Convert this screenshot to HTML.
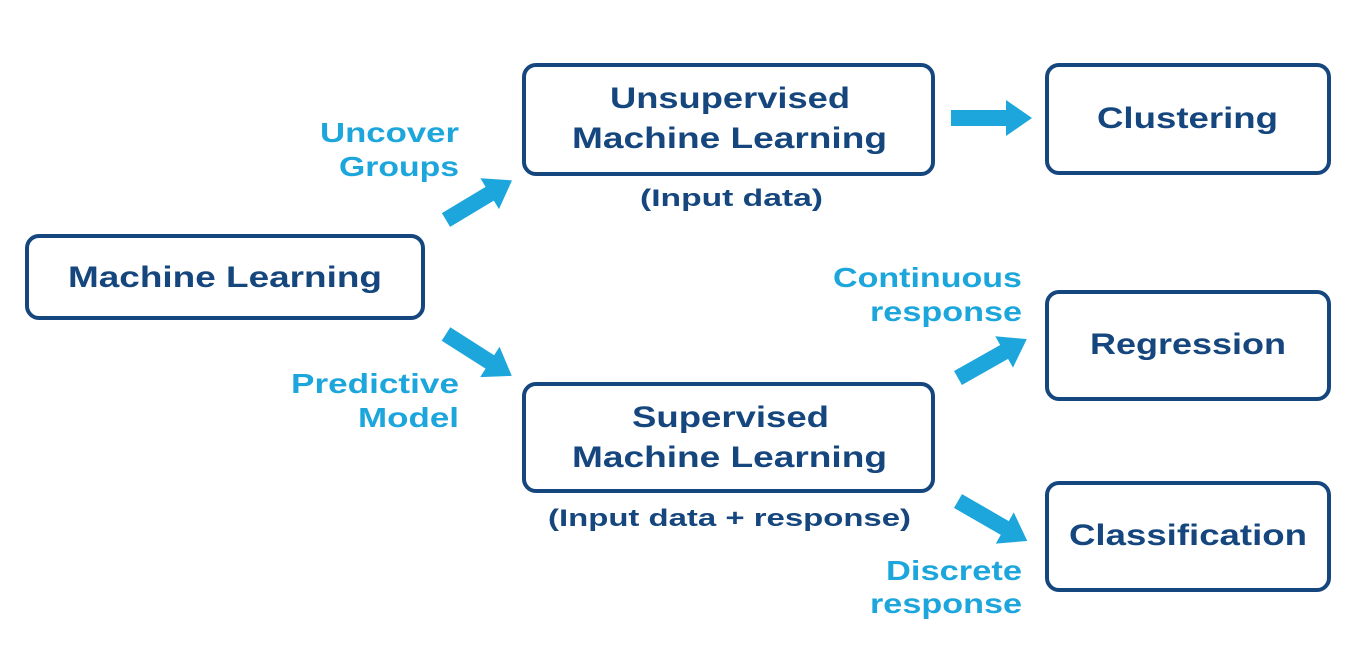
<!DOCTYPE html>
<html><head><meta charset="utf-8"><style>
html,body{margin:0;padding:0;background:#fff;}
svg{display:block;}
text{font-family:"Liberation Sans",Arial,sans-serif;font-weight:bold;}
.n{fill:#15467e;}
.c{fill:#1ca6dc;}
</style></head><body>
<svg width="1350" height="657" viewBox="0 0 1350 657" xmlns="http://www.w3.org/2000/svg">
<rect width="1350" height="657" fill="#fff"/>
<defs>
<symbol id="a" overflow="visible"><polygon points="0,-8 0,8"/></symbol>
</defs>
<g fill="none" stroke="#15467e" stroke-width="4">
<rect x="27" y="236" width="396" height="82" rx="12"/>
<rect x="524" y="65" width="409" height="109" rx="12"/>
<rect x="524" y="384" width="409" height="107" rx="12"/>
<rect x="1047" y="65" width="282" height="108" rx="12"/>
<rect x="1047" y="292" width="282" height="107" rx="12"/>
<rect x="1047" y="483" width="282" height="107" rx="12"/>
</g>
<g fill="#1ca6dc">
<g transform="translate(446,220) rotate(-31)"><polygon points="0,-8 51,-8 51,-18 77,0 51,18 51,8 0,8"/></g>
<g transform="translate(446,334) rotate(32.5)"><polygon points="0,-8 52,-8 52,-18 78,0 52,18 52,8 0,8"/></g>
<g transform="translate(951,118)"><polygon points="0,-8 55,-8 55,-18 81,0 55,18 55,8 0,8"/></g>
<g transform="translate(958,378) rotate(-29.5)"><polygon points="0,-8 53,-8 53,-18 79,0 53,18 53,8 0,8"/></g>
<g transform="translate(958,501) rotate(30)"><polygon points="0,-8 54,-8 54,-18 80,0 54,18 54,8 0,8"/></g>
</g>
<g class="n" font-size="30">
<text x="68" y="287" textLength="314" lengthAdjust="spacingAndGlyphs">Machine Learning</text>
<text x="610" y="108" textLength="240" lengthAdjust="spacingAndGlyphs">Unsupervised</text>
<text x="572" y="148" textLength="315" lengthAdjust="spacingAndGlyphs">Machine Learning</text>
<text x="632" y="427" textLength="197" lengthAdjust="spacingAndGlyphs">Supervised</text>
<text x="572" y="467" textLength="315" lengthAdjust="spacingAndGlyphs">Machine Learning</text>
<text x="1097" y="128" textLength="181" lengthAdjust="spacingAndGlyphs">Clustering</text>
<text x="1090" y="354" textLength="196" lengthAdjust="spacingAndGlyphs">Regression</text>
<text x="1069" y="545" textLength="238" lengthAdjust="spacingAndGlyphs">Classification</text>
</g>
<g class="n" font-size="24">
<text x="640" y="206" textLength="183" lengthAdjust="spacingAndGlyphs">(Input data)</text>
<text x="548" y="526" textLength="363" lengthAdjust="spacingAndGlyphs">(Input data + response)</text>
</g>
<g class="c" font-size="28" font-weight="normal">
<text x="320" y="142" textLength="139" lengthAdjust="spacingAndGlyphs">Uncover</text>
<text x="339" y="176" textLength="120" lengthAdjust="spacingAndGlyphs">Groups</text>
<text x="291" y="393" textLength="168" lengthAdjust="spacingAndGlyphs">Predictive</text>
<text x="358" y="427" textLength="101" lengthAdjust="spacingAndGlyphs">Model</text>
<text x="833" y="287" textLength="189" lengthAdjust="spacingAndGlyphs">Continuous</text>
<text x="870" y="321" textLength="152" lengthAdjust="spacingAndGlyphs">response</text>
<text x="886" y="580" textLength="136" lengthAdjust="spacingAndGlyphs">Discrete</text>
<text x="870" y="613" textLength="152" lengthAdjust="spacingAndGlyphs">response</text>
</g>
</svg>
</body></html>
